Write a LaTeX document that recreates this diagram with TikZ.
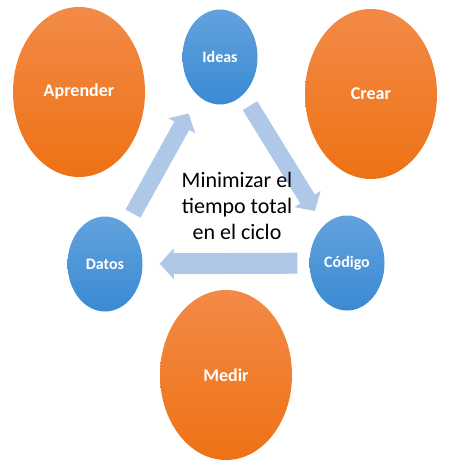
\documentclass[tikz,border=0pt]{standalone}
\usepackage{fontspec}
\setmainfont{Carlito}
\usetikzlibrary{shapes.geometric,arrows.meta}
\definecolor{orangetop}{HTML}{F28A47}
\definecolor{orangebot}{HTML}{EE7214}
\definecolor{bluetop}{HTML}{62A2DD}
\definecolor{bluebot}{HTML}{3A8AD3}
\definecolor{flowblue}{HTML}{AFC8E8}
\begin{document}
\begin{tikzpicture}[
x=1pt, y=-1pt,
big/.style={ellipse, inner sep=0pt, minimum width=132pt, minimum height=170pt, top color=orangetop, bottom color=orangebot, text=white, font=\fontsize{18}{20}\selectfont\bfseries},
small/.style={ellipse, inner sep=0pt, minimum width=75pt, minimum height=95pt, top color=bluetop, bottom color=bluebot, text=white, font=\fontsize{16}{18}\selectfont\bfseries},
flow/.style={-{Triangle[width=30pt,length=14pt]}, line width=17pt, draw=flowblue}
]
\useasboundingbox (0,0) rectangle (450,465);
\node[big] (aprender) at (79,92) {Aprender};
\node[big] (crear) at (371,94) {Crear};
\node[big] (medir) at (226,375) {Medir};
\node[small] (ideas) at (220,57) {Ideas};
\node[small] (datos) at (105,264) {Datos};
\node[small] (codigo) at (347,263) {Código};
\draw[flow, shorten <=13pt, shorten >=20pt] (datos) -- (ideas);
\draw[flow, shorten <=13pt, shorten >=17pt] (ideas) -- (codigo);
\draw[flow, line width=21pt, shorten <=12pt, shorten >=17pt] (codigo) -- (datos);
\node[align=center, font=\fontsize{22}{26}\selectfont] (meta) at (237,206) {Minimizar el\\tiempo total\\en el ciclo};
\end{tikzpicture}
\end{document}
